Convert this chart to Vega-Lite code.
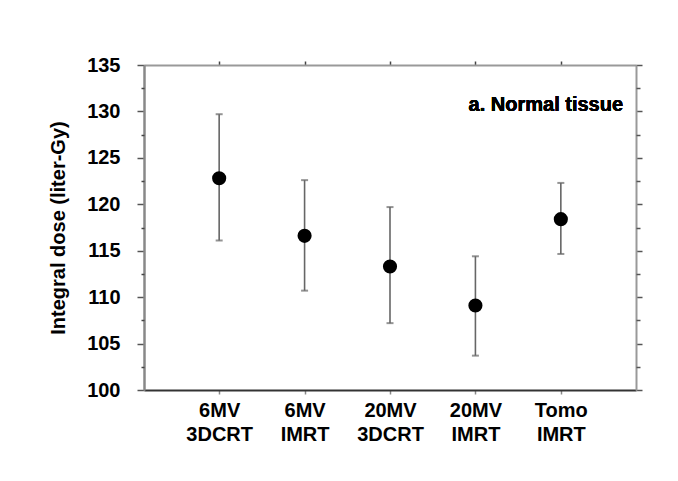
{
  "$schema": "https://vega.github.io/schema/vega-lite/v6.json",
  "width": 492,
  "height": 325,
  "autosize": {"type": "none"},
  "padding": {"left": 144, "top": 65, "right": 42, "bottom": 91},
  "background": "white",
  "config": {
    "view": {"stroke": null},
    "axis": {"grid": false, "labelFont": "Liberation Sans", "titleFont": "Liberation Sans", "labelColor": "#000", "titleColor": "#000"}
  },
  "data": {
    "values": [
      {"group": "6MV 3DCRT", "mean": 122.8, "lo": 116.1, "hi": 129.7},
      {"group": "6MV IMRT", "mean": 116.6, "lo": 110.7, "hi": 122.6},
      {"group": "20MV 3DCRT", "mean": 113.3, "lo": 107.2, "hi": 119.7},
      {"group": "20MV IMRT", "mean": 109.1, "lo": 103.7, "hi": 114.4},
      {"group": "Tomo IMRT", "mean": 118.4, "lo": 114.65, "hi": 122.3}
    ]
  },
  "encoding": {
    "x": {"field": "group", "type": "nominal", "sort": null, "scale": {"type": "point", "padding": 0.88}}
  },
  "resolve": {"axis": {"x": "independent", "y": "independent"}},
  "layer": [
    {
      "mark": {"type": "rule", "color": "#666", "strokeWidth": 1.6},
      "encoding": {
        "x": {"field": "group", "type": "nominal", "sort": null, "axis": {"orient": "bottom", "title": null, "labelExpr": "split(datum.value, ' ')", "labelLineHeight": 24, "labelFontSize": 20, "labelFontWeight": "bold", "labelPadding": 6, "labelAngle": 0, "tickSize": 4, "tickColor": "#888", "tickWidth": 1.5, "domainColor": "#333", "domainWidth": 2}},
        "y": {"field": "lo", "type": "quantitative", "scale": {"domain": [100, 135], "nice": false, "zero": false},
          "axis": {"orient": "left", "values": [100, 105, 110, 115, 120, 125, 130, 135], "tickSize": 7, "tickColor": "#555", "tickWidth": 1.5, "labelPadding": 17, "labelFontSize": 20, "labelFontWeight": "bold", "domainColor": "#888", "domainWidth": 2.5, "title": "Integral dose (liter-Gy)", "titleFontSize": 20, "titleFontWeight": "bold", "titlePadding": 18}},
        "y2": {"field": "hi"}
      }
    },
    {
      "mark": {"type": "tick", "color": "#666", "size": 7, "thickness": 2},
      "encoding": {
        "x": {"field": "group", "type": "nominal", "sort": null, "axis": {"orient": "top", "title": null, "labels": false, "tickSize": 4, "tickColor": "#444", "tickWidth": 1.5, "domainColor": "#999", "domainWidth": 2}},
        "y": {"field": "lo", "type": "quantitative", "axis": {"orient": "left", "values": [102.5, 107.5, 112.5, 117.5, 122.5, 127.5, 132.5], "tickSize": 3, "tickColor": "#444", "tickWidth": 1.5, "labels": false, "domain": false, "title": null}}
      }
    },
    {
      "mark": {"type": "tick", "color": "#666", "size": 7, "thickness": 2},
      "encoding": {
        "x": {"field": "group", "type": "nominal", "sort": null, "axis": null},
        "y": {"field": "hi", "type": "quantitative", "axis": {"orient": "right", "values": [100, 105, 110, 115, 120, 125, 130, 135], "tickSize": 6, "tickColor": "#555", "tickWidth": 1.5, "labels": false, "domainColor": "#999", "domainWidth": 2, "title": null}}
      }
    },
    {
      "mark": {"type": "circle", "color": "#000", "opacity": 1, "size": 200},
      "encoding": {
        "x": {"field": "group", "type": "nominal", "sort": null, "axis": null},
        "y": {"field": "mean", "type": "quantitative", "axis": {"orient": "right", "values": [102.5, 107.5, 112.5, 117.5, 122.5, 127.5, 132.5], "tickSize": 4, "tickColor": "#555", "tickWidth": 1.5, "labels": false, "domain": false, "title": null}}
      }
    },
    {
      "mark": {"type": "text", "text": "a. Normal tissue", "font": "Liberation Sans", "fontSize": 20, "fontWeight": "bold", "color": "#000", "align": "center", "baseline": "middle", "dx": -15},
      "encoding": {
        "x": {"datum": "Tomo IMRT", "type": "nominal", "axis": null},
        "y": {"datum": 130.7, "type": "quantitative", "axis": null}
      }
    }
  ]
}
